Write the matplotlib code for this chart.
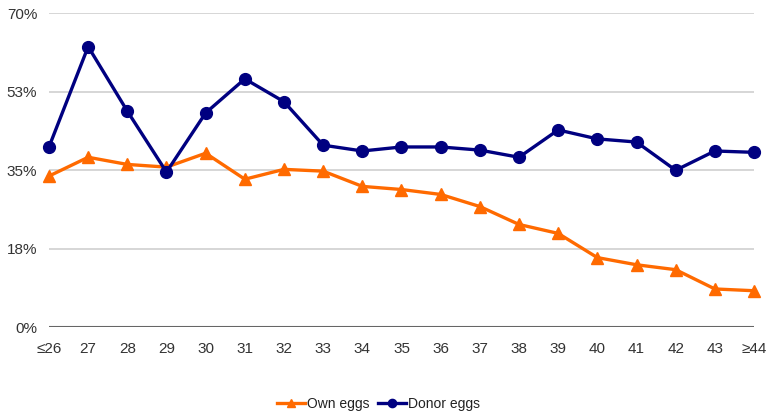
import matplotlib
matplotlib.use("Agg")
import matplotlib.pyplot as plt
import numpy as np

categories = ["≤26", "27", "28", "29", "30", "31", "32", "33", "34", "35", "36",
              "37", "38", "39", "40", "41", "42", "43", "≥44"]
own_eggs = [33.7, 37.9, 36.3, 35.7, 38.8, 33.0, 35.2, 34.8, 31.4, 30.7, 29.6,
            26.9, 22.9, 20.9, 15.5, 13.9, 12.8, 8.5, 8.1]
donor_eggs = [40.2, 62.6, 48.2, 34.6, 47.8, 55.4, 50.3, 40.6, 39.3, 40.2, 40.2,
              39.5, 37.9, 44.0, 42.0, 41.3, 35.0, 39.3, 39.0]
yticks = [0, 17.5, 35, 52.5, 70]
ytick_labels = ["0%", "18%", "35%", "53%", "70%"]

plt.rcParams['font.family'] = ['Liberation Sans', 'DejaVu Sans']

fig = plt.figure(figsize=(7.69, 4.15), dpi=100)
ax = fig.add_axes([0.0637, 0.212, 0.9168, 0.7555])

x = np.arange(len(categories))
ax.plot(x, own_eggs, color="#FF6A00", lw=2.4, marker="^", markersize=9,
        label="Own eggs", zorder=3, clip_on=False)
ax.plot(x, donor_eggs, color="#000080", lw=2.4, marker="o", markersize=8.5,
        label="Donor eggs", zorder=4, clip_on=False)

ax.set_xlim(0, len(categories) - 1)
ax.set_ylim(0, 70)
ax.set_yticks(yticks)
ax.set_yticklabels(ytick_labels)
ax.set_xticks(x)
ax.set_xticklabels(categories)
for t in yticks[1:]:
    ax.axhline(t, color="#d0d0d0", lw=1.2, zorder=1)
ax.axhline(0, color="#666666", lw=1.5, zorder=2)

for s in ax.spines.values():
    s.set_visible(False)
ax.tick_params(axis="both", length=0, labelsize=11, colors="#333333")
ax.tick_params(axis="y", pad=8.5)
ax.tick_params(axis="x", pad=11)

leg = fig.legend(loc="center", bbox_to_anchor=(0.492, 0.027), ncol=2, frameon=False,
                 fontsize=10, handlelength=2.0, handletextpad=0.15, columnspacing=0.6,
                 markerscale=0.7)
for t in leg.get_texts():
    t.set_color("#222222")

fig.savefig("out.png", dpi=100)
